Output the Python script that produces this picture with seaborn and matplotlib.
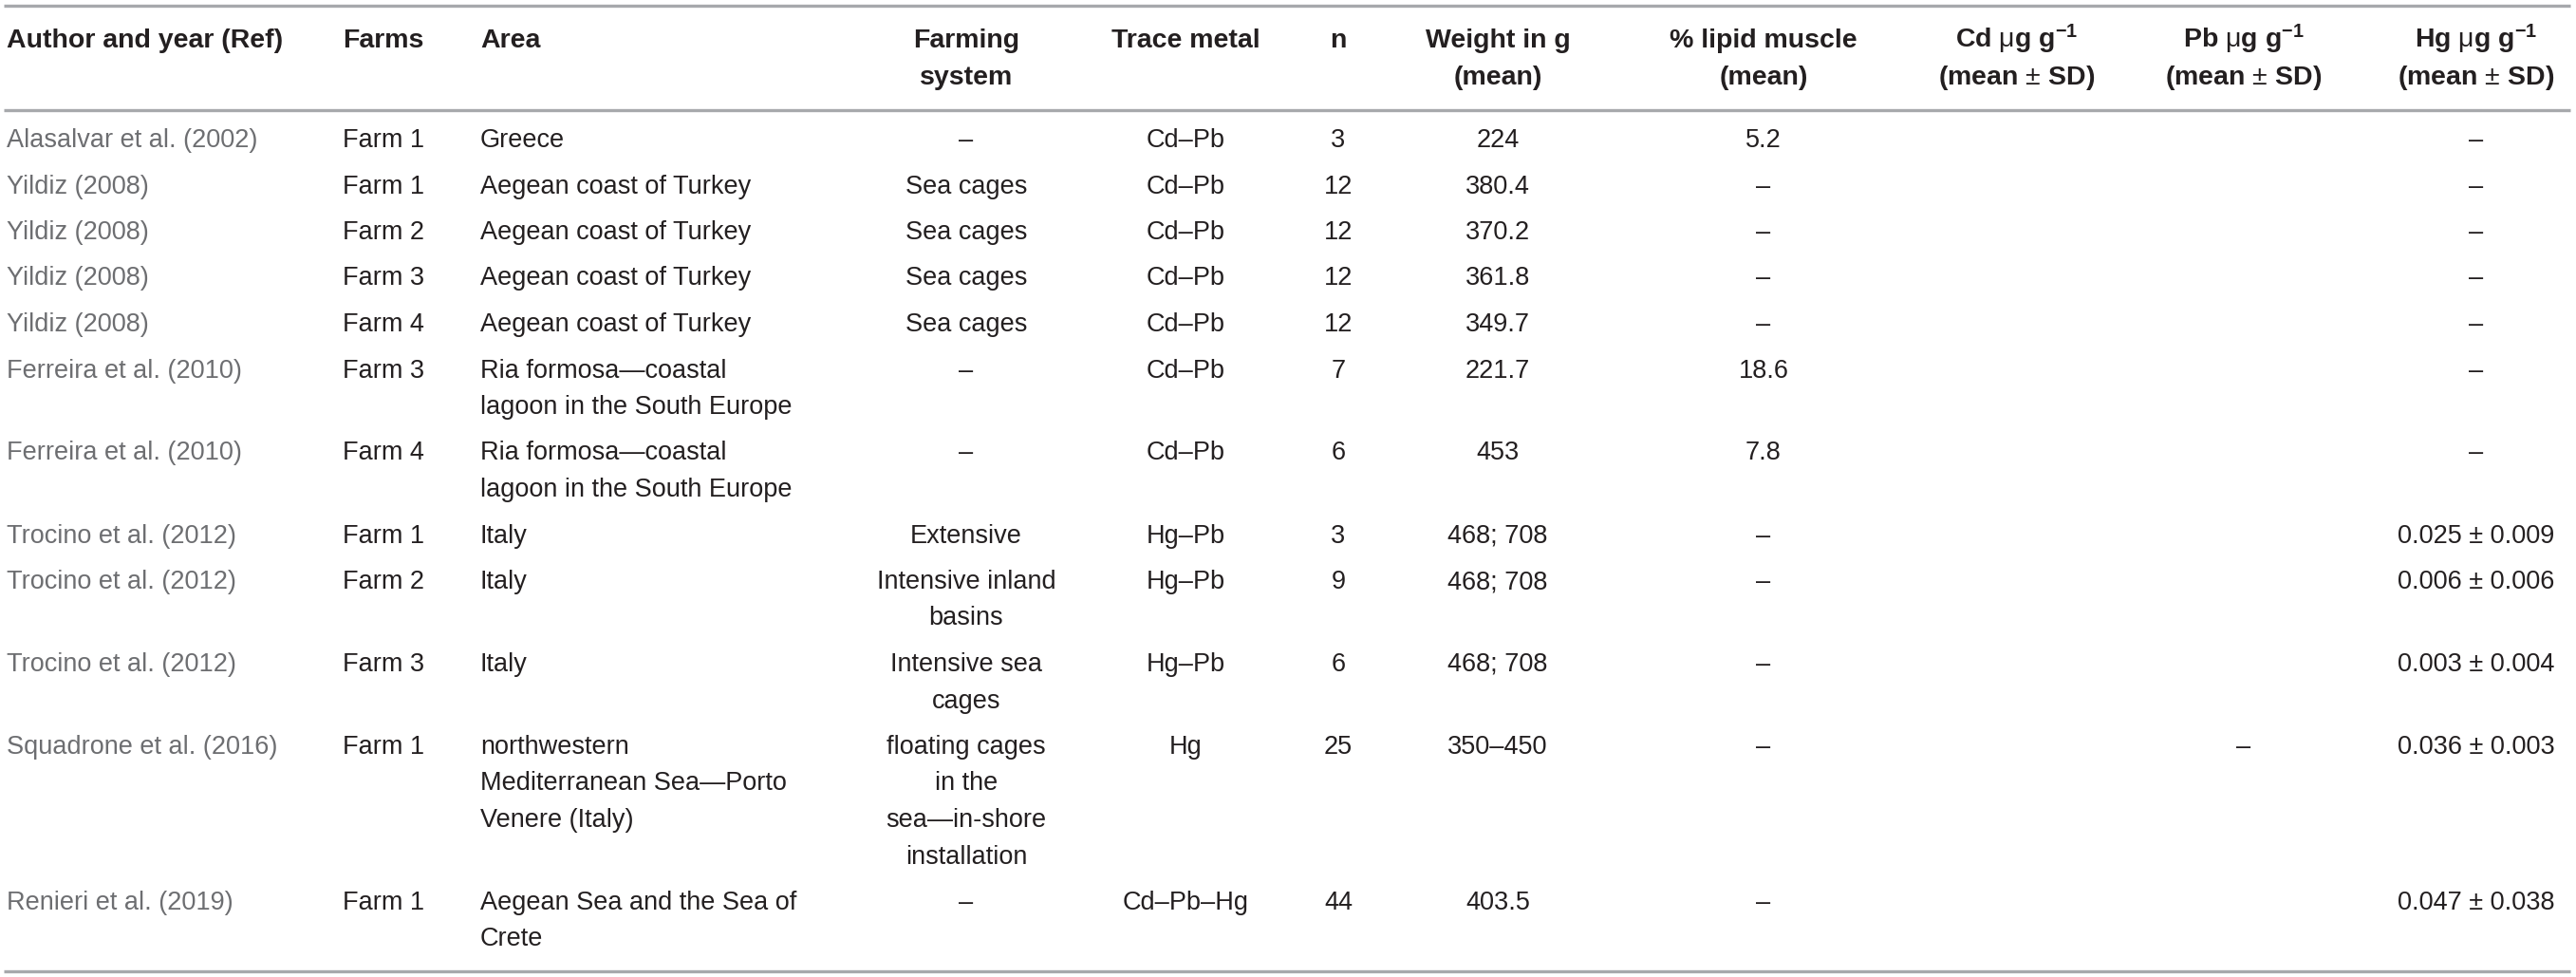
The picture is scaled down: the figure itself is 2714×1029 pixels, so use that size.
import matplotlib
matplotlib.use("Agg")
import matplotlib.pyplot as plt
import seaborn as sns
import pandas as pd

# ---------------- data ----------------
headers = ["Author and year (Ref)", "Farms", "Area", "Farming\nsystem", "Trace metal", "n",
           "Weight in g\n(mean)", "% lipid muscle\n(mean)",
           "Cd $\\mathrm{\\mu}$g g$^{\\mathbf{-1}}$\n(mean $\\mathrm{\\pm}$ SD)",
           "Pb $\\mathrm{\\mu}$g g$^{\\mathbf{-1}}$\n(mean $\\mathrm{\\pm}$ SD)",
           "Hg $\\mathrm{\\mu}$g g$^{\\mathbf{-1}}$\n(mean $\\mathrm{\\pm}$ SD)"]
authors = ["Alasalvar et al. (2002)", "Yildiz (2008)", "Yildiz (2008)", "Yildiz (2008)", "Yildiz (2008)",
           "Ferreira et al. (2010)", "Ferreira et al. (2010)", "Trocino et al. (2012)",
           "Trocino et al. (2012)", "Trocino et al. (2012)", "Squadrone et al. (2016)",
           "Renieri et al. (2019)"]
farms = ["Farm 1", "Farm 1", "Farm 2", "Farm 3", "Farm 4", "Farm 3", "Farm 4",
         "Farm 1", "Farm 2", "Farm 3", "Farm 1", "Farm 1"]
areas = ["Greece", "Aegean coast of Turkey", "Aegean coast of Turkey", "Aegean coast of Turkey",
         "Aegean coast of Turkey", "Ria formosa\u2014coastal\nlagoon in the South Europe",
         "Ria formosa\u2014coastal\nlagoon in the South Europe", "Italy", "Italy", "Italy",
         "northwestern\nMediterranean Sea\u2014Porto\nVenere (Italy)",
         "Aegean Sea and the Sea of\nCrete"]
systems = ["\u2013", "Sea cages", "Sea cages", "Sea cages", "Sea cages", "\u2013", "\u2013",
           "Extensive", "Intensive inland\nbasins", "Intensive sea\ncages",
           "floating cages\nin the\nsea\u2014in-shore\ninstallation", "\u2013"]
metals = ["Cd\u2013Pb"] * 7 + ["Hg\u2013Pb"] * 3 + ["Hg", "Cd\u2013Pb\u2013Hg"]
n_values = ["3", "12", "12", "12", "12", "7", "6", "3", "9", "6", "25", "44"]
weights = ["224", "380.4", "370.2", "361.8", "349.7", "221.7", "453",
           "468; 708", "468; 708", "468; 708", "350\u2013450", "403.5"]
lipids = ["5.2", "\u2013", "\u2013", "\u2013", "\u2013", "18.6", "7.8",
          "\u2013", "\u2013", "\u2013", "\u2013", "\u2013"]
cd_values = [""] * 12
pb_values = [""] * 10 + ["\u2013", ""]
hg_values = ["\u2013"] * 7 + ["0.025 ± 0.009", "0.006 ± 0.006", "0.003 ± 0.004",
                              "0.036 ± 0.003", "0.047 ± 0.038"]

df = pd.DataFrame({h: col for h, col in zip(headers, [authors, farms, areas, systems, metals,
                                                       n_values, weights, lipids, cd_values,
                                                       pb_values, hg_values])})

# ---------------- style ----------------
sns.set_theme(style="white")
plt.rcParams["font.family"] = ["Liberation Sans", "DejaVu Sans"]
plt.rcParams["mathtext.fontset"] = "custom"
plt.rcParams["mathtext.rm"] = "Liberation Sans"
plt.rcParams["mathtext.bf"] = "Liberation Sans:bold"
plt.rcParams["mathtext.it"] = "Liberation Sans:italic"

W, H = 2714, 1029
fig = plt.figure(figsize=(W / 100, H / 100), dpi=100)
ax = fig.add_axes([0, 0, 1, 1])
ax.set_xlim(0, W)
ax.set_ylim(H, 0)
ax.axis("off")

FS = 19.5
HFS = 20.5
body_color = "#231f20"
author_color = "#6d6e71"
rule_color = "#a7a9ac"

# column anchors: (x, alignment)
cols = [(7, "left"), (361, "left"), (506, "left"), (1018, "center"), (1249, "center"),
        (1410, "center"), (1578, "center"), (1858, "center"), (2125, "center"),
        (2364, "center"), (2609, "center")]

LINE = 38.5
GAP = 48.5

# rules
for y in (6, 116, 1023):
    ax.plot([4, 2708], [y, y], color=rule_color, lw=2.4, solid_capstyle="butt")

# header
for (x, ha), label in zip(cols, headers):
    for i, line in enumerate(label.split("\n")):
        ax.text(x, 50 + i * 39, line, ha=ha, va="baseline", fontsize=HFS,
                fontweight="bold", color=body_color)

# body
y0 = 155
for r in range(len(df)):
    row = df.iloc[r]
    nlines = max(str(v).count("\n") + 1 for v in row)
    for c, ((x, ha), val) in enumerate(zip(cols, row)):
        color = author_color if c == 0 else body_color
        for i, line in enumerate(str(val).split("\n")):
            if line:
                ax.text(x, y0 + i * LINE, line, ha=ha, va="baseline", fontsize=FS,
                        color=color)
    y0 += GAP + LINE * (nlines - 1)

fig.savefig("out.png", dpi=100)
